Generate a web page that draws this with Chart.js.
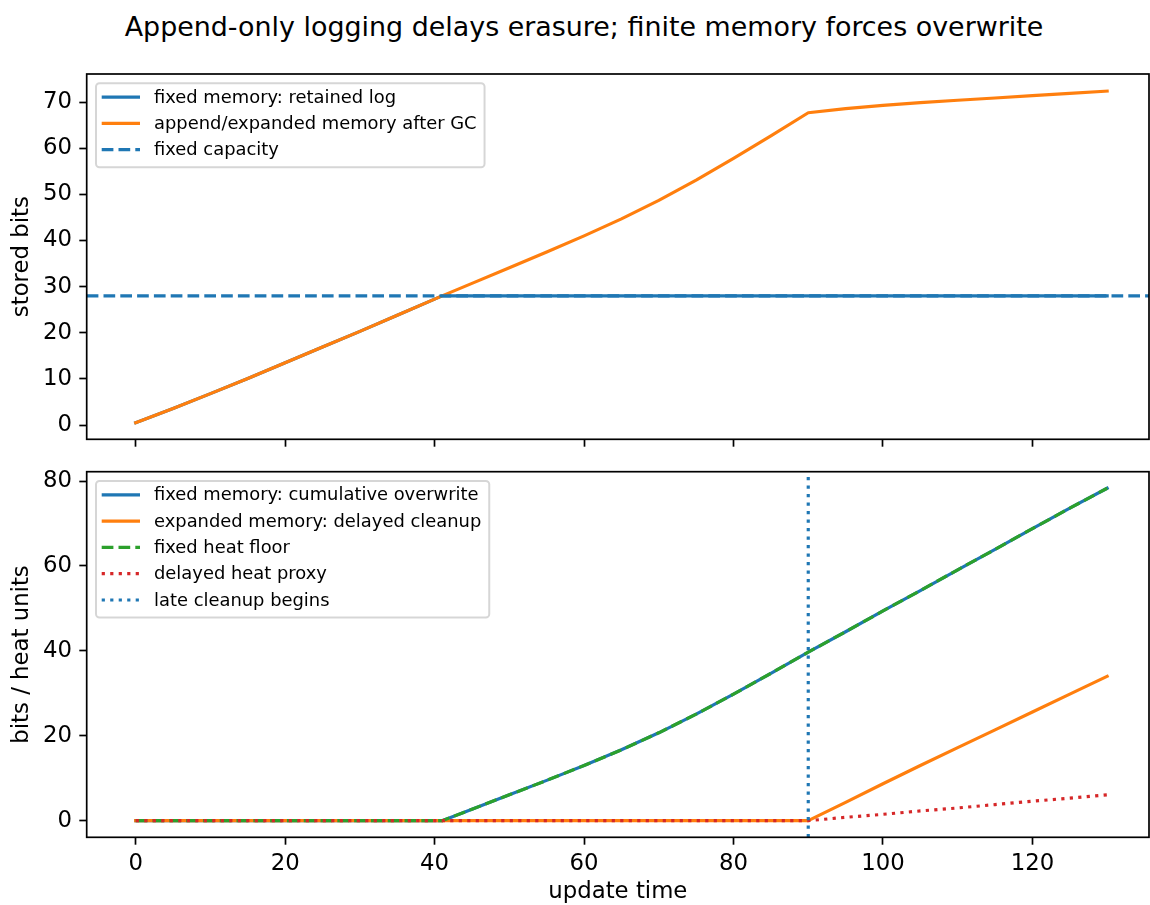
<!DOCTYPE html>
<html>
<head>
<meta charset="utf-8">
<script src="https://cdn.jsdelivr.net/npm/chart.js@4.4.1/dist/chart.umd.min.js"></script>
<style>
  html, body { margin: 0; padding: 0; background: #fff; }
  body { width: 1150px; height: 905px; position: relative; overflow: hidden; }
  #title {
    position: absolute; left: 0; top: 11px; width: 1168px; text-align: center;
    font-family: 'DejaVu Sans', sans-serif; font-size: 26.9px; line-height: 32px; color: #000;
  }
  canvas { position: absolute; left: 0; }
  #storage { top: 50px; }
  #heat { top: 455px; }
</style>
</head>
<body>
<div id="title">Append-only logging delays erasure; finite memory forces overwrite</div>
<canvas id="storage" width="1150" height="405"></canvas>
<canvas id="heat" width="1150" height="450"></canvas>
<script>
// ---- data ----
const updateTime = [0, 5, 10, 15, 20, 25, 30, 35, 40, 41, 45, 50, 55, 60, 65, 70, 75, 80, 85, 90,
                    95, 100, 105, 110, 115, 120, 125, 130];

// upper panel: stored bits
const retainedLog = [0.5, 3.6, 6.8, 10.1, 13.5, 16.9, 20.3, 23.8, 27.3, 28, 28, 28, 28, 28, 28, 28, 28, 28, 28, 28,
                     28, 28, 28, 28, 28, 28, 28, 28];
const expandedMemory = [0.5, 3.6, 6.8, 10.1, 13.5, 16.9, 20.3, 23.8, 27.3, 28.0, 30.7, 34.1, 37.5, 41.0, 44.7, 48.7, 53.1, 57.8, 62.7, 67.7,
                        68.6, 69.3, 69.9, 70.4, 70.9, 71.4, 71.9, 72.4];
const fixedCapacity = 28;

// lower panel: bits / heat units
const cumulativeOverwrite = [0, 0, 0, 0, 0, 0, 0, 0, 0, 0, 2.7, 6.1, 9.5, 13.0, 16.7, 20.7, 25.1, 29.8, 34.7, 39.7,
                             44.5, 49.4, 54.2, 59.1, 63.9, 68.8, 73.6, 78.3];
const delayedCleanup = [0, 0, 0, 0, 0, 0, 0, 0, 0, 0, 0, 0, 0, 0, 0, 0, 0, 0, 0, 0,
                        4.3, 8.7, 13.0, 17.2, 21.4, 25.6, 29.8, 34.0];
const fixedHeatFloor = [0, 0, 0, 0, 0, 0, 0, 0, 0, 0, 2.7, 6.1, 9.5, 13.0, 16.7, 20.7, 25.1, 29.8, 34.7, 39.7,
                        44.5, 49.4, 54.2, 59.1, 63.9, 68.8, 73.6, 78.3];
const delayedHeatProxy = [0, 0, 0, 0, 0, 0, 0, 0, 0, 0, 0, 0, 0, 0, 0, 0, 0, 0, 0, 0,
                          0.8, 1.5, 2.3, 3.0, 3.8, 4.6, 5.3, 6.1];
const cleanupStart = 90;

// axis ticks and limits
const timeTicks = [0, 20, 40, 60, 80, 100, 120];
const storedTicks = [0, 10, 20, 30, 40, 50, 60, 70];
const heatTicks = [0, 20, 40, 60, 80];
const timeRange = [-6.56, 135.6];
const storedRange = [-3.1, 76.1];
const heatRange = [-3.91, 82.2];

// ---- styling ----
const BLUE = '#1f77b4', ORANGE = '#ff7f0e', GREEN = '#2ca02c', RED = '#d62728';
const FONT = "'DejaVu Sans'";
const LW = 3.17;
const DASH = [11.7, 5.1];
const DOT = [3.2, 5.3];
const TICK_FONT = { family: FONT, size: 22.8 };
const XLABEL_FONT = { family: FONT, size: 22.8, lineHeight: 1.12 };
const LEGEND_SIZE = 17.9;

Chart.defaults.font.family = FONT;
Chart.defaults.color = '#000';

const pts = (xs, ys) => xs.map((x, i) => ({ x, y: ys[i] }));

function line(label, data, color, dash, idx, total) {
  return {
    label, data, borderColor: color, backgroundColor: color,
    borderWidth: LW, borderDash: dash || [], pointRadius: 0, tension: 0,
    borderCapStyle: dash ? 'butt' : 'square', borderJoinStyle: 'round',
    fill: false, order: total - idx
  };
}

function gridOpts() {
  return { drawOnChartArea: false, drawTicks: true, tickLength: 7.4, tickWidth: 1.7, tickColor: '#000', color: '#000' };
}

// axis boxes keep a fixed size so both panels line up exactly
function xAxis(withLabels, height) {
  return {
    type: 'linear', min: timeRange[0], max: timeRange[1],
    afterBuildTicks: s => { s.ticks = timeTicks.map(v => ({ value: v })); },
    afterFit: s => { s.height = height; s.paddingLeft = 0; s.paddingRight = 0; },
    grid: gridOpts(),
    border: { display: false },
    ticks: { display: withLabels, padding: 6.0, font: TICK_FONT, color: '#000', maxRotation: 0, autoSkip: false },
    title: { display: withLabels, text: 'update time', font: XLABEL_FONT, color: '#000', padding: { top: 0, bottom: 0 } }
  };
}

function yAxis(range, ticks, label) {
  return {
    type: 'linear', min: range[0], max: range[1],
    afterBuildTicks: s => { s.ticks = ticks.map(v => ({ value: v })); },
    afterFit: s => { s.width = 86.7; s.paddingTop = 0; s.paddingBottom = 0; },
    grid: gridOpts(),
    border: { display: false },
    ticks: { padding: 7.3, font: TICK_FONT, color: '#000' },
    title: { display: true, text: label, font: TICK_FONT, color: '#000', padding: { top: 8.8, bottom: 0 } }
  };
}

// axes frame plus a boxed legend in the upper-left corner of each panel
const framedLegend = {
  id: 'framedLegend',
  afterDatasetsDraw(chart) {
    const { ctx, chartArea: a } = chart;
    ctx.save();
    ctx.setLineDash([]);
    ctx.strokeStyle = '#000';
    ctx.lineWidth = 1.7;
    ctx.strokeRect(a.left, a.top, a.right - a.left, a.bottom - a.top);

    const items = chart.data.datasets;
    ctx.font = `${LEGEND_SIZE}px ${FONT}`;
    const maxW = Math.max(...items.map(d => ctx.measureText(d.label).width));
    const x0 = a.left + 9.3, y0 = a.top + 9.3;
    const rowH = 26.3;
    const w = 58 + maxW + 8;
    const h = 13.8 + rowH * (items.length - 1) + 17.5;
    ctx.beginPath();
    ctx.roundRect(x0, y0, w, h, 3.5);
    ctx.fillStyle = 'rgba(255,255,255,0.8)';
    ctx.fill();
    ctx.strokeStyle = 'rgba(204,204,204,0.8)';
    ctx.lineWidth = 2;
    ctx.stroke();

    items.forEach((d, i) => {
      const cy = y0 + 13.8 + rowH * i;
      ctx.beginPath();
      ctx.setLineDash(d.borderDash || []);
      ctx.lineCap = 'butt';
      ctx.strokeStyle = d.borderColor;
      ctx.lineWidth = d.borderWidth;
      ctx.moveTo(x0 + 5.7, cy);
      ctx.lineTo(x0 + 44, cy);
      ctx.stroke();
      ctx.setLineDash([]);
      ctx.fillStyle = '#000';
      ctx.textBaseline = 'middle';
      ctx.textAlign = 'left';
      ctx.fillText(d.label, x0 + 58, cy + 1);
    });
    ctx.restore();
  }
};

const common = {
  responsive: false, devicePixelRatio: 1, animation: false,
  plugins: { legend: { display: false }, tooltip: { enabled: false } }
};

// upper panel
const storageSets = [
  ['fixed memory: retained log', pts(updateTime, retainedLog), BLUE, null],
  ['append/expanded memory after GC', pts(updateTime, expandedMemory), ORANGE, null],
  ['fixed capacity', [{ x: timeRange[0], y: fixedCapacity }, { x: timeRange[1], y: fixedCapacity }], BLUE, DASH]
];
new Chart(document.getElementById('storage'), {
  type: 'line',
  data: { datasets: storageSets.map((s, i) => line(s[0], s[1], s[2], s[3], i, storageSets.length)) },
  options: Object.assign({}, common, {
    layout: { padding: { top: 24, right: 1, left: 0, bottom: 0 } },
    scales: { x: xAxis(false, 15.7), y: yAxis(storedRange, storedTicks, 'stored bits') }
  }),
  plugins: [framedLegend]
});

// lower panel
const heatSets = [
  ['fixed memory: cumulative overwrite', pts(updateTime, cumulativeOverwrite), BLUE, null],
  ['expanded memory: delayed cleanup', pts(updateTime, delayedCleanup), ORANGE, null],
  ['fixed heat floor', pts(updateTime, fixedHeatFloor), GREEN, DASH],
  ['delayed heat proxy', pts(updateTime, delayedHeatProxy), RED, DOT],
  ['late cleanup begins', [{ x: cleanupStart, y: heatRange[0] }, { x: cleanupStart, y: heatRange[1] }], BLUE, DOT]
];
new Chart(document.getElementById('heat'), {
  type: 'line',
  data: { datasets: heatSets.map((s, i) => line(s[0], s[1], s[2], s[3], i, heatSets.length)) },
  options: Object.assign({}, common, {
    layout: { padding: { top: 16.7, right: 1, left: 0, bottom: 0 } },
    scales: { x: xAxis(true, 67.7), y: yAxis(heatRange, heatTicks, 'bits / heat units') }
  }),
  plugins: [framedLegend]
});
</script>
</body>
</html>
